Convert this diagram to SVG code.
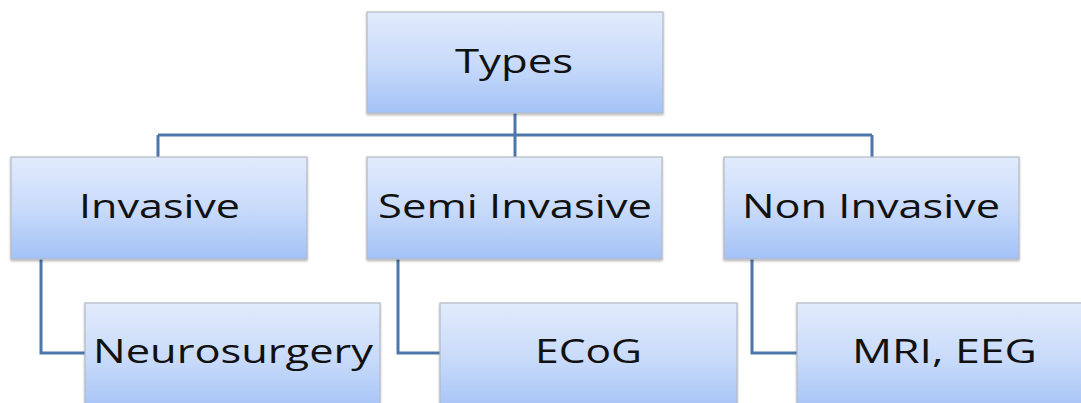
<svg xmlns="http://www.w3.org/2000/svg" width="1081" height="403" viewBox="0 0 1081 403">
<defs>
<linearGradient id="g" x1="0" y1="0" x2="0" y2="1">
<stop offset="0" stop-color="#e1ebfc"/>
<stop offset="0.5" stop-color="#c9dbfa"/>
<stop offset="1" stop-color="#a3c2f7"/>
</linearGradient>
<filter id="sh" x="-5%" y="-5%" width="110%" height="115%">
<feDropShadow dx="0" dy="1.5" stdDeviation="1" flood-color="#000" flood-opacity="0.3"/>
</filter>
</defs>
<style>
.box{fill:url(#g);stroke:#b4bac4;stroke-width:1.2;filter:url(#sh)}
.t{font-family:"Open Sans","Liberation Sans",sans-serif;font-size:32px;fill:#111;text-anchor:middle}
.c{fill:none;stroke:#4d77ab;stroke-width:3}
</style>
<rect width="1081" height="403" fill="#fff"/>
<g id="connectors">
<path class="c" d="M515 113V135M158 135H872M158 135V157M515 135V157M872 135V157"/>
<path class="c" d="M41 259V353H85"/>
<path class="c" d="M398 259V353H440"/>
<path class="c" d="M752 259V353H797"/>
</g>
<g id="types"><rect class="box" x="367" y="12" width="296" height="101"/><text class="t" x="514" y="73" textLength="118" lengthAdjust="spacingAndGlyphs">Types</text></g>
<g id="invasive"><rect class="box" x="11" y="157" width="296" height="102"/><text class="t" x="159.5" y="218" textLength="161" lengthAdjust="spacingAndGlyphs">Invasive</text></g>
<g id="semi"><rect class="box" x="367" y="157" width="295" height="102"/><text class="t" x="515" y="218" textLength="274" lengthAdjust="spacingAndGlyphs">Semi Invasive</text></g>
<g id="non"><rect class="box" x="724" y="157" width="295" height="102"/><text class="t" x="871" y="218" textLength="258" lengthAdjust="spacingAndGlyphs">Non Invasive</text></g>
<g id="neuro"><rect class="box" x="85" y="303" width="295" height="110"/><text class="t" x="233" y="363" textLength="280" lengthAdjust="spacingAndGlyphs">Neurosurgery</text></g>
<g id="ecog"><rect class="box" x="440" y="303" width="297" height="110"/><text class="t" x="588.5" y="363" textLength="107" lengthAdjust="spacingAndGlyphs">ECoG</text></g>
<g id="mri"><rect class="box" x="797" y="303" width="296" height="110"/><text class="t" x="944.5" y="363" textLength="185" lengthAdjust="spacingAndGlyphs">MRI, EEG</text></g>
</svg>
